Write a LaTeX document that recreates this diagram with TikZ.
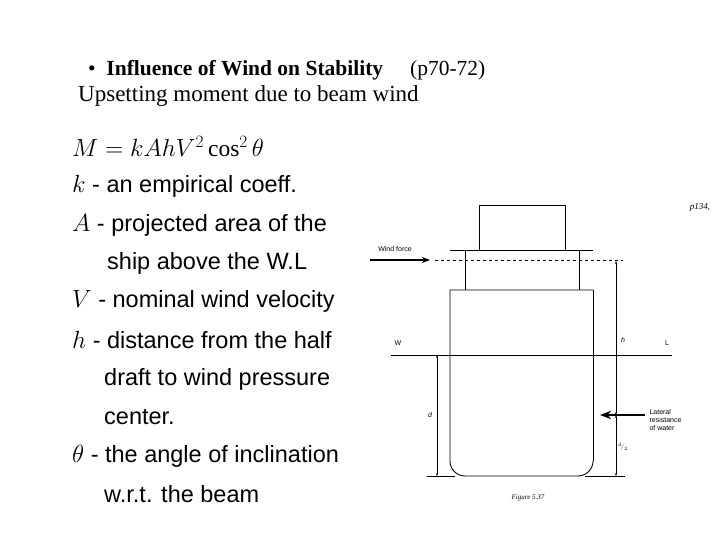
\documentclass[tikz,border=0pt]{standalone}
\usepackage{fontspec}
\setmainfont{Liberation Serif}
\setsansfont{Liberation Sans}
\usetikzlibrary{arrows.meta}
\begin{document}
\begin{tikzpicture}[x=1pt,y=-1pt,>=Stealth,
  hull/.style={line width=0.9pt},
  dim/.style={<->,>={Stealth[length=3pt]},line width=0.5pt},
  lbl/.style={font=\sffamily\scriptsize},
  txt/.style={anchor=west,font=\sffamily\fontsize{23.5}{26}\selectfont,inner sep=0pt}]
\useasboundingbox (0,0) rectangle (720,540);
% titre
\node[anchor=west,inner sep=0pt,font=\fontsize{21.5}{24}\selectfont] (title) at (88,70)
  {\textbullet\ \ \textbf{Influence of Wind on Stability}\quad\ (p70-72)};
\node[anchor=west,inner sep=0pt,font=\fontsize{23}{24}\selectfont] (sub) at (78,96)
  {Upsetting moment due to beam wind};
% texte de gauche
\begin{scope}
\clip (60,120) rectangle (345,515);
\node[txt] (eq) at (72,147) {$M=kAhV^2\cos^2\theta$};
\node[txt] (k) at (72,186) {$k$ - an empirical coeff.};
\node[txt] (A) at (72,225) {$A$ - projected area of the};
\node[txt] (A2) at (107,263) {ship above the W.L};
\node[txt] (V) at (72,301) {$V$ - nominal wind velocity};
\node[txt] (h) at (72,340) {$h$ - distance from the half};
\node[txt] (h2) at (104,379) {draft to wind pressure};
\node[txt] (h3) at (104,417) {center.};
\node[txt] (th) at (72,456) {$\theta$ - the angle of inclination};
\node[txt] (th2) at (104,494) {w.r.t. the beam};
\end{scope}
% navire
\draw[hull] (479,250) -- (479,205) -- (565,205) -- (565,250);
\draw[hull] (450,250) -- (593,250);
\draw[hull] (465,250) -- (465,290);
\draw[hull] (579,250) -- (579,290);
\draw[hull] (593,290) -- (450,290) -- (450,461) [rounded corners=15pt] -- (450,476) -- (593,476) -- (593,461);
\draw[hull] (593,461) -- (593,290);
% lignes
\draw[dashed,line width=0.6pt] (435,260) -- (623,260);
\draw[line width=0.9pt] (391,355) -- (672,355);
\draw[line width=0.5pt] (427,476) -- (455,476);
\draw[line width=0.5pt] (585,476) -- (625,476);
% fleches
\coordinate (wf0) at (370,260);
\coordinate (wf1) at (430,260);
\draw[->,line width=1.2pt] (wf0) -- (wf1);
\node[lbl] (wind) at (395,249) {Wind force};
\coordinate (lr0) at (645,415);
\coordinate (lr1) at (600,415);
\draw[->,line width=1.8pt] (lr0) -- (lr1);
\node[lbl,align=left,anchor=west] (lat) at (646,420) {Lateral\\resistance\\of water};
% cotes
\coordinate (d0) at (437,355);
\coordinate (d1) at (437,476);
\draw[dim] (d0) -- (d1);
\node[lbl,font=\sffamily\itshape\scriptsize] (dl) at (430,415) {d};
\coordinate (h0) at (616,261);
\coordinate (h1) at (616,415);
\coordinate (h2) at (616,476);
\draw[dim] (h0) -- (h1);
\draw[dim] (h1) -- (h2);
\node[lbl,font=\sffamily\itshape\scriptsize] (hl) at (623,340) {h};
\node[lbl,font=\sffamily\itshape\tiny] (d2l) at (623,447) {$^d\!/_2$};
\node[lbl] (Wl) at (398,343) {W};
\node[lbl] (Ll) at (667,343) {L};
\node[font=\itshape\scriptsize] (fig) at (528,498) {Figure 5.37};
\node[font=\itshape\small] (pg) at (700,207) {p134,};
\end{tikzpicture}
\end{document}
